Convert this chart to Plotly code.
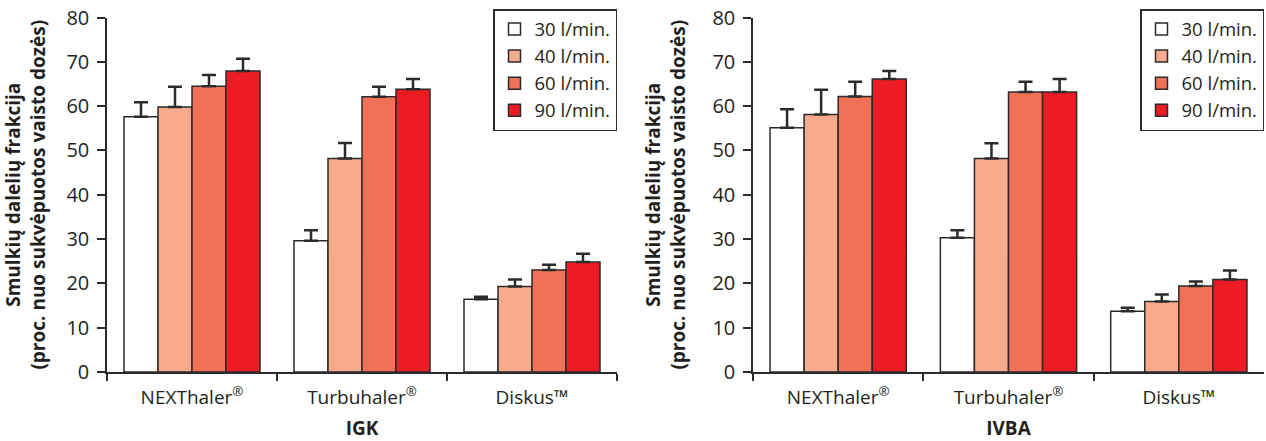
import plotly.graph_objects as go

# ---- data ----
categories = ["NEXThaler<sup>®</sup>", "Turbuhaler<sup>®</sup>", "Diskus™"]
flow_rates = ["30 l/min.", "40 l/min.", "60 l/min.", "90 l/min."]
bar_colors = ["#ffffff", "#f7aa8c", "#f07155", "#ed1c24"]

# IGK panel (mean, upper error)
igk_30 = [57.6, 29.6, 16.4]
igk_40 = [59.8, 48.2, 19.3]
igk_60 = [64.5, 62.1, 23.0]
igk_90 = [67.9, 63.8, 24.8]
igk_err_30 = [3.3, 2.4, 0.6]
igk_err_40 = [4.6, 3.5, 1.6]
igk_err_60 = [2.5, 2.3, 1.2]
igk_err_90 = [2.8, 2.3, 1.9]

# IVBA panel
ivba_30 = [55.1, 30.3, 13.7]
ivba_40 = [58.1, 48.2, 15.9]
ivba_60 = [62.2, 63.2, 19.4]
ivba_90 = [66.1, 63.2, 20.9]
ivba_err_30 = [4.2, 1.7, 0.8]
ivba_err_40 = [5.6, 3.4, 1.6]
ivba_err_60 = [3.3, 2.3, 1.0]
ivba_err_90 = [1.8, 2.9, 2.0]

y_title = "Smulkių dalelių frakcija<br>(proc. nuo sukvėpuotos vaisto dozės)"
panel_titles = ["IGK", "IVBA"]

igk_vals = [igk_30, igk_40, igk_60, igk_90]
igk_errs = [igk_err_30, igk_err_40, igk_err_60, igk_err_90]
ivba_vals = [ivba_30, ivba_40, ivba_60, ivba_90]
ivba_errs = [ivba_err_30, ivba_err_40, ivba_err_60, ivba_err_90]

FONT = "Open Sans"
DARK = "#2b2b2b"
TXT = "#231f20"
W, H = 1266, 441

fig = go.Figure()

for panel, (vals, errs) in enumerate([(igk_vals, igk_errs), (ivba_vals, ivba_errs)]):
    xa = "x" if panel == 0 else "x2"
    ya = "y" if panel == 0 else "y2"
    lg = "legend" if panel == 0 else "legend2"
    for i, name in enumerate(flow_rates):
        fig.add_trace(go.Bar(
            x=categories, y=vals[i], name=name,
            xaxis=xa, yaxis=ya, legend=lg,
            marker=dict(color=bar_colors[i], line=dict(color=DARK, width=1.5)),
            error_y=dict(type="data", symmetric=False, array=errs[i],
                         arrayminus=[0] * len(errs[i]),
                         color=DARK, thickness=2.5, width=7),
        ))

ydom = [(H - 372) / H, (H - 17.5) / H]
xdoms = [[107 / W, 617 / W], [753 / W, 1264 / W]]

axis_common = dict(showline=True, linecolor=DARK, linewidth=1.5,
                   ticks="outside", tickcolor=DARK, tickwidth=1.5,
                   showgrid=False, zeroline=False, automargin=False)

for panel in range(2):
    sfx = "" if panel == 0 else "2"
    fig.update_layout(**{
        "xaxis" + sfx: dict(
            domain=xdoms[panel], anchor="y" + sfx, type="category",
            tickson="boundaries", ticklen=7, ticklabelstandoff=7,
            tickfont=dict(family=FONT, size=19, color=TXT),
            title=dict(text=panel_titles[panel], standoff=18,
                       font=dict(family=FONT, size=19, color=TXT, weight="bold")),
            **axis_common),
        "yaxis" + sfx: dict(
            domain=ydom, anchor="x" + sfx, range=[0, 80], dtick=10, ticklen=8,
            ticklabelstandoff=4,
            tickfont=dict(family=FONT, size=20, color=TXT),
            title=dict(text=y_title, standoff=22,
                       font=dict(family=FONT, size=19, color=TXT, weight="bold")),
            **axis_common),
    })

legend_common = dict(yanchor="top", xanchor="right", y=(H - 9) / H,
                     bgcolor="#ffffff", bordercolor=DARK, borderwidth=1.5,
                     font=dict(family=FONT, size=18.5, color=TXT),
                     tracegroupgap=0)

fig.update_layout(
    width=W, height=H,
    margin=dict(l=0, r=0, t=0, b=0),
    paper_bgcolor="white", plot_bgcolor="white",
    barmode="group", bargap=0.2, bargroupgap=0,
    showlegend=True,
    legend=dict(x=617 / W, **legend_common),
    legend2=dict(x=1264 / W, **legend_common),
    font=dict(family=FONT, color=TXT),
)

fig.write_html("out.html",
               config={"displayModeBar": False},
               post_script="document.body.style.margin='0px';"
                           "document.body.style.overflow='hidden';")
